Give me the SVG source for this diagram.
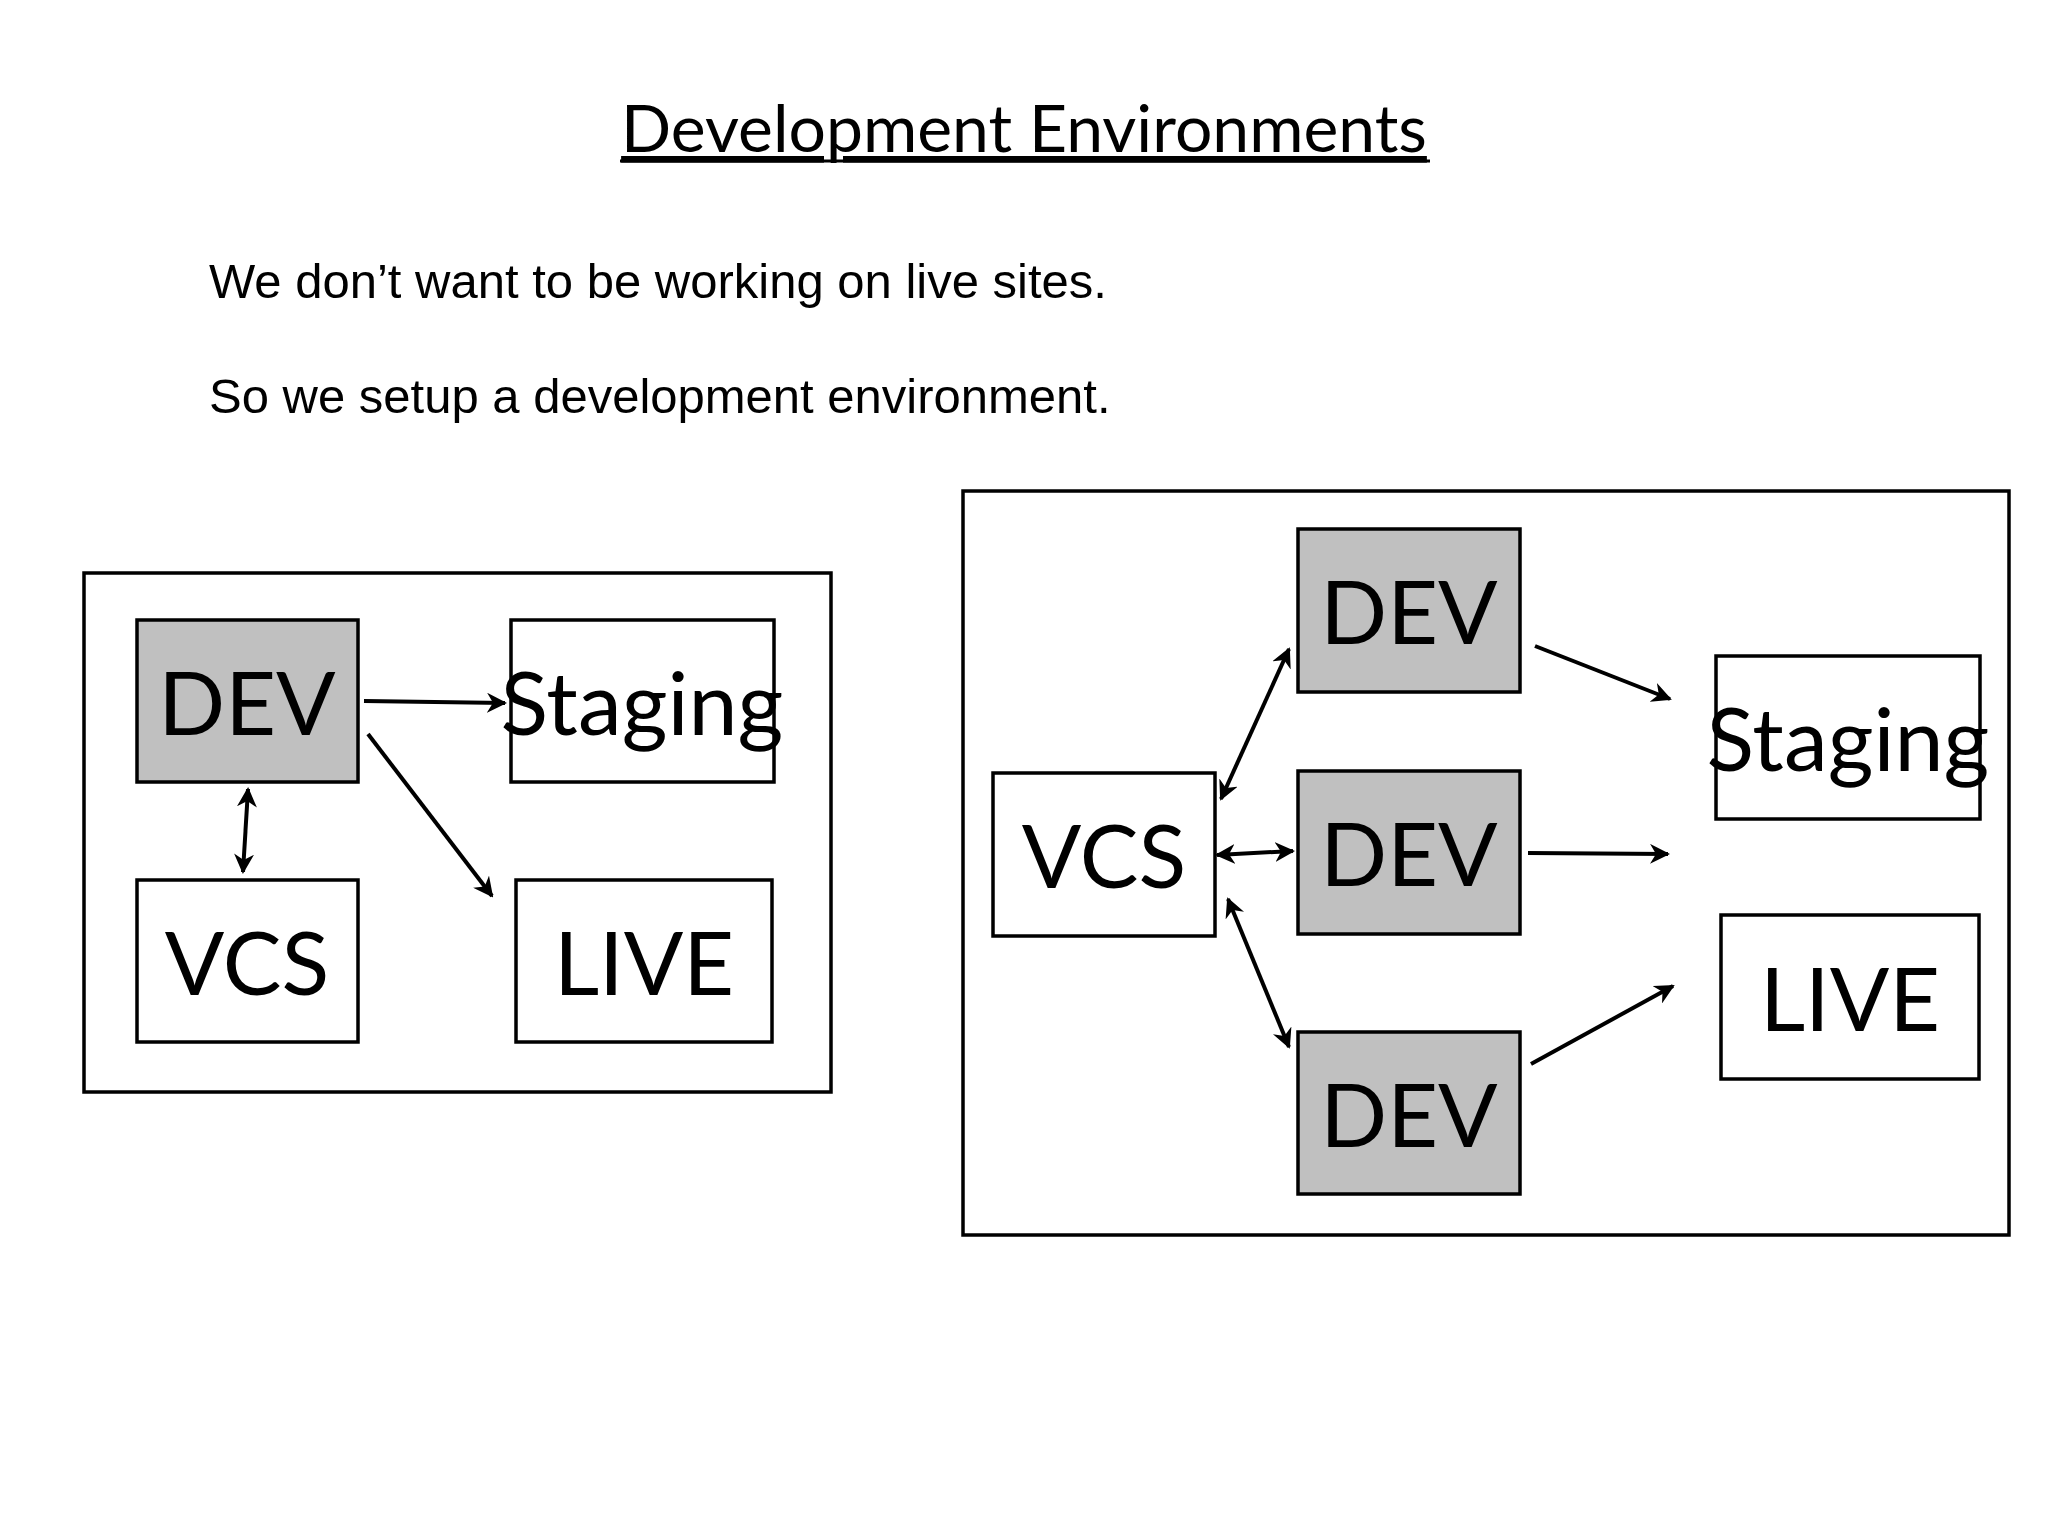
<svg xmlns="http://www.w3.org/2000/svg" width="2048" height="1536" viewBox="0 0 2048 1536">
<style>
.frame{fill:none;stroke:#000;stroke-width:3.5}
.box{fill:#fff;stroke:#000;stroke-width:3.5}
.dev{fill:#c0c0c0;stroke:#000;stroke-width:3.5}
.lbl{font-family:Lato,"Open Sans",sans-serif;font-size:88px;text-anchor:middle;dominant-baseline:central}
.body{font-family:"Liberation Sans",Arial,sans-serif;font-size:49px}
.c{stroke:#000;stroke-width:4;fill:none;marker-end:url(#a)}
.d{stroke:#000;stroke-width:4;fill:none;marker-end:url(#a);marker-start:url(#s)}
</style>
<defs>
<marker id="a" viewBox="0 0 10 10" refX="9" refY="5" markerWidth="5" markerHeight="5" orient="auto"><path d="M0,0L10,5L0,10L3,5z"/></marker>
<marker id="s" viewBox="0 0 10 10" refX="1" refY="5" markerWidth="5" markerHeight="5" orient="auto"><path d="M10,0L0,5L10,10L7,5z"/></marker>
</defs>
<rect width="2048" height="1536" fill="#fff"/>
<text x="1024" y="152" font-family="Lato,'Open Sans',sans-serif" font-size="66" text-anchor="middle" text-decoration="underline">Development Environments</text>
<line x1="620" y1="161" x2="1430" y2="161" stroke="#000" stroke-width="3"/>
<text class="body" x="209" y="298">We don’t want to be working on live sites.</text>
<text class="body" x="209" y="413">So we setup a development environment.</text>
<rect class="frame" x="84" y="573" width="747" height="519"/>
<rect class="frame" x="963" y="491" width="1046" height="744"/>
<g id="l-dev"><rect class="dev" x="137" y="620" width="221" height="162"/><text class="lbl" x="247" y="701">DEV</text></g>
<g id="l-staging"><rect class="box" x="511" y="620" width="263" height="162"/><text class="lbl" x="642" y="701">Staging</text></g>
<g id="l-vcs"><rect class="box" x="137" y="880" width="221" height="162"/><text class="lbl" x="247" y="961">VCS</text></g>
<g id="l-live"><rect class="box" x="516" y="880" width="256" height="162"/><text class="lbl" x="644" y="961">LIVE</text></g>
<g id="r-dev1"><rect class="dev" x="1298" y="529" width="222" height="163"/><text class="lbl" x="1409" y="610">DEV</text></g>
<g id="r-dev2"><rect class="dev" x="1298" y="771" width="222" height="163"/><text class="lbl" x="1409" y="852">DEV</text></g>
<g id="r-dev3"><rect class="dev" x="1298" y="1032" width="222" height="162"/><text class="lbl" x="1409" y="1113">DEV</text></g>
<g id="r-vcs"><rect class="box" x="993" y="773" width="222" height="163"/><text class="lbl" x="1104" y="854">VCS</text></g>
<g id="r-staging"><rect class="box" x="1716" y="656" width="264" height="163"/><text class="lbl" x="1848" y="737">Staging</text></g>
<g id="r-live"><rect class="box" x="1721" y="915" width="258" height="164"/><text class="lbl" x="1850" y="997">LIVE</text></g>
<g id="connectors">
<line class="c" x1="364" y1="701" x2="505" y2="703"/>
<line class="c" x1="368" y1="734" x2="492" y2="896"/>
<line class="d" x1="248" y1="789" x2="243" y2="872"/>
<line class="d" x1="1221" y1="799" x2="1289" y2="649"/>
<line class="d" x1="1217" y1="855" x2="1293" y2="851"/>
<line class="d" x1="1228" y1="899" x2="1289" y2="1047"/>
<line class="c" x1="1535" y1="646" x2="1670" y2="699"/>
<line class="c" x1="1528" y1="853" x2="1668" y2="854"/>
<line class="c" x1="1531" y1="1064" x2="1673" y2="986"/>
</g>
</svg>
